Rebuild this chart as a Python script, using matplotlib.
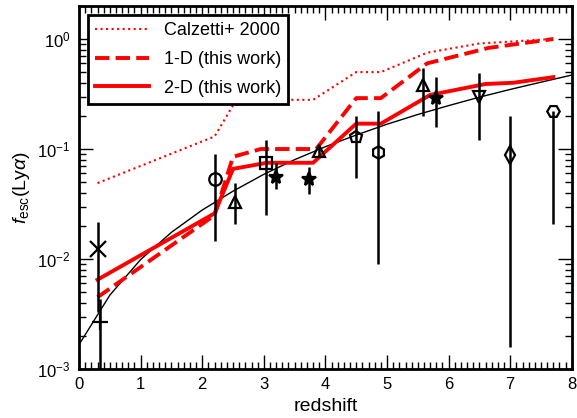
import matplotlib.pyplot as plt
import numpy as np

plt.rcParams['font.family'] = ['Liberation Sans', 'DejaVu Sans']
plt.rcParams['mathtext.fontset'] = 'custom'
plt.rcParams['mathtext.rm'] = 'Liberation Sans'
plt.rcParams['mathtext.it'] = 'Liberation Sans:italic'

# Calzetti+ 2000
z_cal = [0.3, 2.2, 2.5, 3.25, 3.8, 4.5, 4.9, 5.65, 6.5, 7.7]
f_cal = [0.049, 0.13, 0.25, 0.28, 0.28, 0.50, 0.50, 0.75, 0.91, 1.0]

# 1-D (this work)
z_1d = [0.3, 2.2, 2.5, 2.95, 3.85, 4.5, 4.9, 5.65, 6.65, 7.7]
f_1d = [0.0045, 0.025, 0.085, 0.10, 0.10, 0.29, 0.29, 0.60, 0.83, 1.0]

# 2-D (this work)
z_2d = [0.3, 2.2, 2.5, 3.05, 3.8, 4.5, 4.9, 5.7, 6.6, 7.05, 7.7]
f_2d = [0.0065, 0.026, 0.066, 0.075, 0.075, 0.17, 0.17, 0.31, 0.39, 0.40, 0.45]

# thin black fit curve
z_fit = [0, 0.5, 1, 1.5, 2, 2.5, 3, 3.5, 4, 4.5, 5, 5.5, 6, 6.5, 7, 7.5, 8]
f_fit = [0.00167, 0.0047, 0.0099, 0.0175, 0.0279, 0.0414, 0.0589, 0.080, 0.105,
         0.134, 0.168, 0.206, 0.248, 0.296, 0.348, 0.405, 0.47]

# observed points: redshift, value, lower end, upper end, marker
z_obs = [0.3, 0.34, 2.2, 2.53, 3.03, 3.19, 3.73, 3.9, 4.5, 4.86, 5.58, 5.79, 6.5, 7.0, 7.7]
f_obs = [0.0124, 0.0027, 0.053, 0.033, 0.075, 0.056, 0.053, 0.095, 0.128, 0.093,
         0.38, 0.29, 0.30, 0.089, 0.22]
f_lo = [0.0033, 0.0001, 0.0145, 0.021, 0.025, 0.043, 0.039, 0.085, 0.054, 0.0091,
        0.20, 0.16, 0.12, 0.0016, 0.021]
f_hi = [0.0215, 0.0043, 0.091, 0.049, 0.12, 0.075, 0.068, 0.105, 0.20, 0.22,
        0.55, 0.45, 0.49, 0.20, 0.22]
marks = ['x', '+', 'o', '^', 's', '*', '*', '^', 'p', 'h', '^', '*', 'v', 'd', 'H']

fig = plt.figure(figsize=(5.77, 4.18), dpi=100)
ax = fig.add_axes([0.137, 0.117, 0.854, 0.869])

ax.plot(z_fit, f_fit, color='black', lw=1)
ax.plot(z_cal, f_cal, ':', color='red', lw=1.5, label='Calzetti+ 2000')
ax.plot(z_1d, f_1d, '--', color='red', lw=2.8, label='1-D (this work)')
ax.plot(z_2d, f_2d, '-', color='red', lw=2.8, label='2-D (this work)')

for z, f, lo, hi, m in zip(z_obs, f_obs, f_lo, f_hi, marks):
    filled = 'black' if m == '*' else 'none'
    size = {'*': 10, '+': 12, 'x': 11}.get(m, 9)
    ax.errorbar(z, f, yerr=[[f - lo], [hi - f]], fmt=m, color='black',
                mfc=filled, mec='black', ms=size, mew=1.6, elinewidth=1.8, capsize=0)

ax.set_yscale('log')
ax.set_xlim(0, 8)
ax.set_ylim(1e-3, 2.0)
ax.set_xticks(range(0, 9))
ax.xaxis.set_minor_locator(plt.MultipleLocator(0.1))
ax.tick_params(which='both', direction='in', top=True, right=True, labelsize=12)
ax.tick_params(which='major', length=10, width=1, pad=6)
ax.tick_params(which='minor', length=5, width=1)
for s in ax.spines.values():
    s.set_linewidth(2)

ax.set_xlabel('redshift', fontsize=14, labelpad=4)
ax.set_ylabel(r'$f_{\mathrm{esc}}$(Ly$\alpha$)', fontsize=14)

leg = ax.legend(loc='upper left', fontsize=13, handlelength=3, fancybox=False,
                framealpha=1, borderaxespad=0.5, labelspacing=0.65)
leg.get_frame().set_edgecolor('black')
leg.get_frame().set_linewidth(2)

plt.savefig('out.png')
